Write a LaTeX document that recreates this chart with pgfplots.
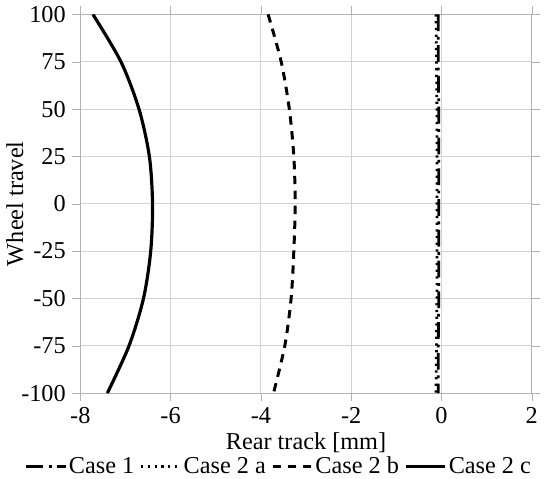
\documentclass[border=0pt]{standalone}
\usepackage{fontspec}
\setmainfont{Liberation Serif}
\usepackage{pgfplots}
\pgfplotsset{compat=1.18}

\begin{document}
\begin{tikzpicture}
\begin{axis}[
  width=242pt, height=203pt, scale only axis,
  xmin=-8, xmax=2, ymin=-100, ymax=100,
  xtick={-8,-6,...,2}, ytick={-100,-75,...,100},
  grid=major,
  major grid style={gray!35, line width=0.6pt},
  axis line style={gray!60},
  tick style={gray!60},
  tick align=outside,
  /pgf/number format/assume math mode=true,
  font=\fontsize{13}{14}\selectfont,
  xlabel={Rear track [mm]},
  ylabel={Wheel travel},
  xlabel style={at={(axis description cs:0.5,0)}, anchor=base, yshift=-30pt},
  ylabel style={yshift=-8pt},
  legend columns=4,
  legend style={draw=none, at={(axis description cs:0.44,0)}, anchor=north, yshift=-33pt,
    font=\fontsize{13}{14}\selectfont, inner sep=0pt,
    nodes={inner sep=1pt},
    /tikz/every even column/.append style={column sep=2pt}},
  legend cell align=left,
  legend image code/.code={\draw[#1] (0pt,0pt) -- (21pt,0pt);},
]
% Case 1
\addplot[black, line width=1.5pt, dash pattern=on 9pt off 3pt on 1.5pt off 3pt, smooth] coordinates {
  (-0.07,100) (-0.07,75) (-0.06,50) (-0.06,25) (-0.06,0) (-0.06,-25) (-0.06,-50) (-0.07,-75) (-0.07,-100)
};
\addlegendentry{Case 1}
% Case 2 a
\addplot[black, line width=1.5pt, dash pattern=on 1.2pt off 2.4pt, smooth] coordinates {
  (-0.12,100) (-0.11,75) (-0.10,50) (-0.10,25) (-0.10,0) (-0.10,-25) (-0.10,-50) (-0.11,-75) (-0.12,-100)
};
\addlegendentry{Case 2 a}
% Case 2 b
\addplot[black, line width=1.6pt, dash pattern=on 4.5pt off 3.5pt, smooth] coordinates {
  (-3.84,100) (-3.55,75) (-3.37,50) (-3.27,25) (-3.24,0) (-3.27,-25) (-3.33,-50) (-3.47,-75) (-3.72,-100)
};
\addlegendentry{Case 2 b}
% Case 2 c
\addplot[black, line width=1.7pt, smooth] coordinates {
  (-7.72,100) (-7.1,75) (-6.7,50) (-6.47,25) (-6.4,0) (-6.44,-25) (-6.6,-50) (-6.92,-75) (-7.4,-100)
};
\addlegendentry{Case 2 c}
\end{axis}
\end{tikzpicture}
\end{document}
